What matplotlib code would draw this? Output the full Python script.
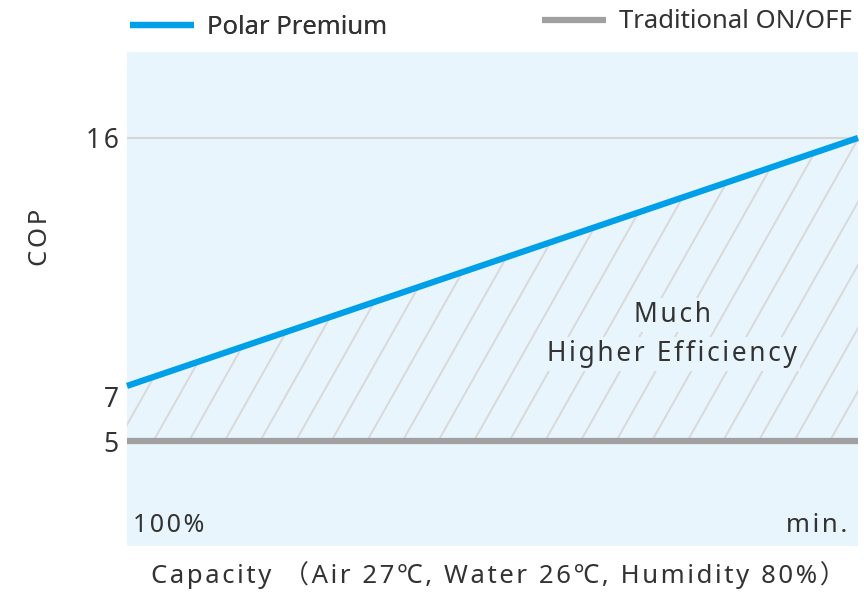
import matplotlib

matplotlib.use("Agg")
import matplotlib.pyplot as plt
import matplotlib.transforms as mtransforms
import numpy as np

# data
capacity_pos = [0.0, 1.0]
capacity_labels = ["100%", "min."]
cop_polar = [7, 16]
cop_traditional = [5, 5]
cop_ticks = [5, 7, 16]
series_names = ["Polar Premium", "Traditional ON/OFF"]

BG = "#e8f5fd"
BLUE = "#00a0e9"
GRAY = "#a0a0a0"
HATCH = "#d9d9d9"
TEXT = "#333333"
FONT = ["Noto Sans", "Noto Sans CJK SC", "DejaVu Sans"]

plt.rcParams["font.family"] = FONT


def spaced(s):
    # crude letter spacing with hair spaces
    return "\u200a".join(s)


fig = plt.figure(figsize=(8.64, 5.94), dpi=100)
ax = fig.add_axes([127 / 864, 1 - 546 / 594, 731 / 864, 494 / 594])
ax.set_facecolor(BG)
ax.set_xlim(0, 1)
ax.set_ylim(1.19, 19.12)
for s in ax.spines.values():
    s.set_visible(False)

ax.axhline(16, color="#d6d6d6", lw=1.5, zorder=1)

# hatched area between the two lines
poly = ax.fill_between(capacity_pos, cop_traditional, cop_polar, facecolor="none", edgecolor="none")
clip = (poly.get_paths()[0], ax.transData)
step = 35.6 / 731
rise = 279 / 731
for k in range(-12, 30):
    xb = -0.045 + k * step
    ln, = ax.plot([xb, xb + rise], [0, 1], transform=ax.transAxes, color=HATCH, lw=1.4, zorder=2)
    ln.set_clip_path(*clip)

l1, = ax.plot(capacity_pos, cop_polar, color=BLUE, lw=4.5, solid_capstyle="butt", zorder=4, clip_on=False)
l2, = ax.plot(capacity_pos, cop_traditional, color=GRAY, lw=4.5, solid_capstyle="butt", zorder=3, clip_on=False)

ax.set_xticks([])
ax.set_yticks(cop_ticks)
ax.set_yticklabels([spaced(str(t)) for t in cop_ticks])
ax.tick_params(axis="y", length=0, pad=6, labelsize=19, labelcolor=TEXT)
lab7 = ax.get_yticklabels()[1]
lab7.set_transform(lab7.get_transform() + mtransforms.ScaledTranslation(0, -11 / 100, fig.dpi_scale_trans))

ax.set_ylabel(spaced("COP"), fontsize=18.5, color=TEXT, labelpad=0)
ax.yaxis.set_label_coords(-0.101, 0.624)

ax.text(0.008, 0.0425, spaced(capacity_labels[0]), transform=ax.transAxes, ha="left", va="center", fontsize=18, color=TEXT)
ax.text(0.986, 0.0425, spaced(capacity_labels[1]), transform=ax.transAxes, ha="right", va="center", fontsize=18.5, color=TEXT)

box = dict(facecolor=BG, edgecolor="none", pad=2)
ax.text(0.7456, 0.4676, spaced("Much"), transform=ax.transAxes, ha="center", va="center", fontsize=19, color=TEXT, bbox=box, zorder=5)
ax.text(0.7456, 0.3887, spaced("Higher Efficiency"), transform=ax.transAxes, ha="center", va="center", fontsize=19, color=TEXT, bbox=box, zorder=5)

fig.text(498 / 864, 1 - 575 / 594, spaced("Capacity （Air 27℃, Water 26℃, Humidity 80%）"),
         ha="center", va="center", fontsize=18.5, color=TEXT)

leg_kw = dict(frameon=False, borderpad=0, borderaxespad=0, handlelength=2.5, handletextpad=0.5,
              fontsize=18.5, labelcolor=TEXT, loc="center left")
leg1 = fig.legend([l1], [series_names[0]], bbox_to_anchor=(130 / 864, 1 - 27 / 594), **leg_kw)
leg2 = fig.legend([l2], [series_names[1]], bbox_to_anchor=(542 / 864, 1 - 22 / 594), **leg_kw)
fig.add_artist(leg1)

fig.savefig("out.png", dpi=100, facecolor="white")
